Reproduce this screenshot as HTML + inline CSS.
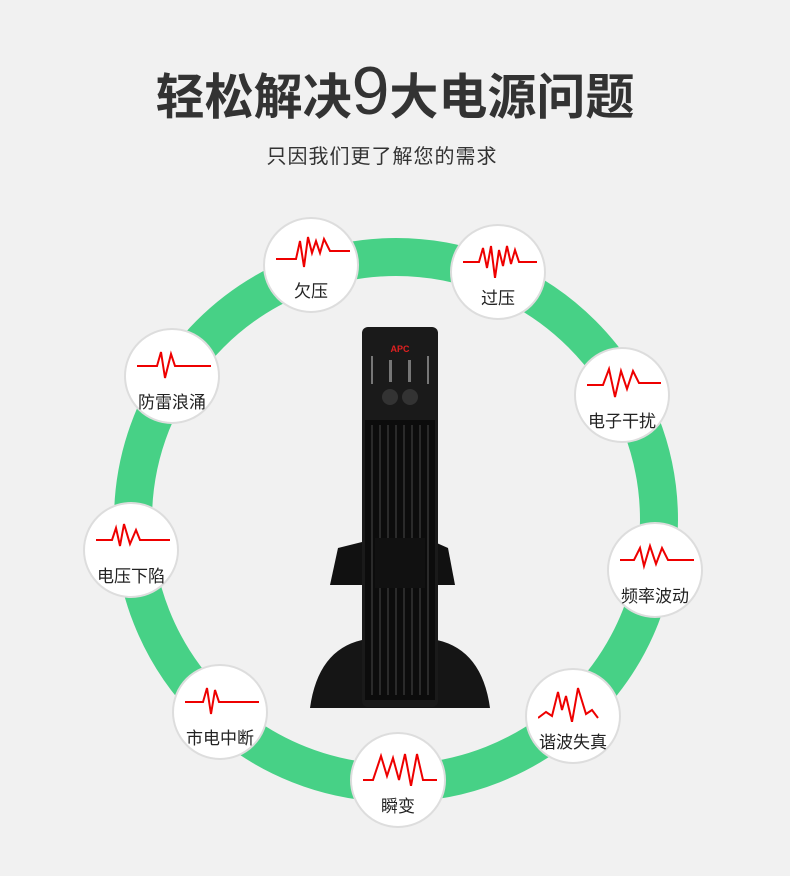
<!DOCTYPE html>
<html><head><meta charset="utf-8"><style>
body{margin:0;width:790px;height:876px;background:#f1f1f1;position:relative;overflow:hidden;font-family:"Liberation Sans","Noto Sans CJK SC",sans-serif}
.t{position:absolute;left:0;width:790px;text-align:center}
.c{position:absolute;width:96px;height:96px;border-radius:50%;background:#fff;border:2px solid #ddd;box-sizing:border-box}
.c span{position:absolute;left:0;right:0;top:58px;text-align:center;font-size:17px;color:#222}
.c svg{position:absolute;left:11px;top:12px}
</style></head><body>
<div class="t" style="top:52px;font-size:49px;font-weight:bold;color:#333;letter-spacing:0px">轻松解决<span style="font-size:68px;font-weight:normal;font-family:'Liberation Sans',sans-serif">9</span>大电源问题</div>
<div class="t" style="top:140px;left:-13px;font-size:20px;color:#333;letter-spacing:1px">只因我们更了解您的需求</div>
<svg width="790" height="876" style="position:absolute;left:0;top:0">
<circle cx="396" cy="520" r="263" fill="none" stroke="#47d186" stroke-width="38"/>
<path d="M330 585 L338 548 L370 540 L430 540 L448 548 L455 585 Z" fill="#111"/>
<path d="M310 708 Q318 650 362 640 L437 640 Q482 650 490 708 Z" fill="#151515"/>
<rect x="362" y="327" width="76" height="380" rx="6" fill="#1a1a1a"/>
<rect x="365" y="420" width="70" height="280" fill="#0c0c0c"/>
<g stroke="#2a2a2a" stroke-width="2">
<line x1="372" y1="425" x2="372" y2="695"/><line x1="380" y1="425" x2="380" y2="695"/><line x1="388" y1="425" x2="388" y2="695"/><line x1="396" y1="425" x2="396" y2="695"/><line x1="404" y1="425" x2="404" y2="695"/><line x1="412" y1="425" x2="412" y2="695"/><line x1="420" y1="425" x2="420" y2="695"/><line x1="428" y1="425" x2="428" y2="695"/>
</g>
<rect x="375" y="538" width="50" height="50" fill="#111"/>
<text x="400" y="352" font-size="9" fill="#e02020" text-anchor="middle" font-weight="bold">APC</text>
<g fill="#777"><rect x="371" y="356" width="2" height="28"/><rect x="389" y="360" width="3" height="22"/><rect x="408" y="360" width="3" height="22"/><rect x="427" y="356" width="2" height="28"/></g>
<circle cx="390" cy="397" r="8" fill="#333"/><circle cx="410" cy="397" r="8" fill="#333"/>
</svg>
<div class="c" style="left:263px;top:217px"><svg width="74" height="40"><polyline points="0,28 20,28 24,10 28,36 32,6 36,22 40,10 44,22 48,8 54,20 74,20" fill="none" stroke="#e00" stroke-width="2"/></svg><span>欠压</span></div>
<div class="c" style="left:450px;top:224px"><svg width="74" height="40"><polyline points="0,24 16,24 20,10 24,30 28,8 32,40 36,12 40,28 44,8 48,26 52,12 56,24 74,24" fill="none" stroke="#e00" stroke-width="2"/></svg><span>过压</span></div>
<div class="c" style="left:124px;top:328px"><svg width="74" height="40"><polyline points="0,24 20,24 24,10 28,36 34,12 38,24 74,24" fill="none" stroke="#e00" stroke-width="2"/></svg><span>防雷浪涌</span></div>
<div class="c" style="left:574px;top:347px"><svg width="74" height="40"><polyline points="0,24 16,24 22,8 28,36 34,10 40,28 46,10 52,22 74,22" fill="none" stroke="#e00" stroke-width="2"/></svg><span>电子干扰</span></div>
<div class="c" style="left:83px;top:502px"><svg width="74" height="40"><polyline points="0,24 16,24 20,12 24,30 28,8 34,28 40,14 44,24 74,24" fill="none" stroke="#e00" stroke-width="2"/></svg><span>电压下陷</span></div>
<div class="c" style="left:607px;top:522px"><svg width="74" height="40"><polyline points="0,24 14,24 20,12 24,30 30,10 36,28 42,12 48,24 74,24" fill="none" stroke="#e00" stroke-width="2"/></svg><span>频率波动</span></div>
<div class="c" style="left:172px;top:664px"><svg width="74" height="40"><polyline points="0,24 18,24 22,10 26,36 30,12 34,24 74,24" fill="none" stroke="#e00" stroke-width="2"/></svg><span>市电中断</span></div>
<div class="c" style="left:525px;top:668px"><svg width="74" height="40"><polyline points="0,36 8,30 14,34 20,10 24,28 28,14 34,40 40,6 48,32 54,28 60,36" fill="none" stroke="#e00" stroke-width="2"/></svg><span>谐波失真</span></div>
<div class="c" style="left:350px;top:732px"><svg width="74" height="40"><polyline points="0,34 10,34 18,10 24,30 30,12 36,34 42,8 48,40 54,8 60,34 74,34" fill="none" stroke="#e00" stroke-width="2"/></svg><span>瞬变</span></div>
</body></html>
